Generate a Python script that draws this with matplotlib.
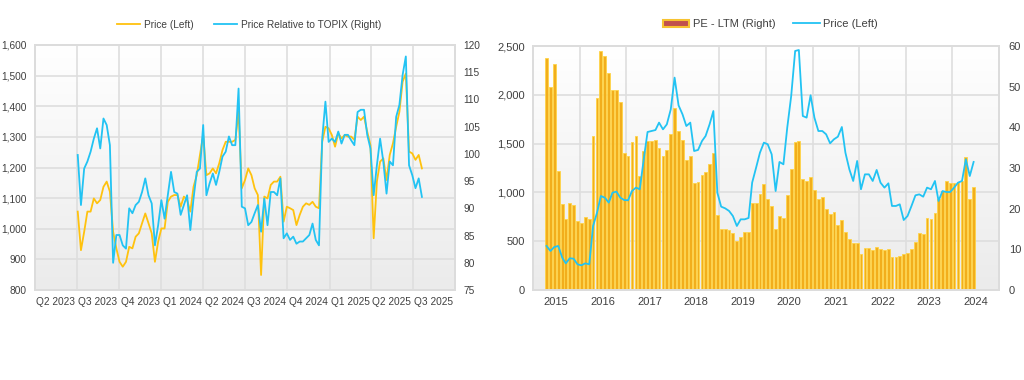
import numpy as np
import pandas as pd
import matplotlib
matplotlib.use("Agg")
import matplotlib.pyplot as plt
import matplotlib.dates as mdates
from matplotlib.lines import Line2D
from matplotlib.patches import Patch
from matplotlib.colors import LinearSegmentedColormap
from matplotlib.ticker import FuncFormatter

plt.rcParams['font.family'] = ['Liberation Sans', 'DejaVu Sans']

# ---------------- Left chart data (weekly) ----------------
left_start = '2023-07-03'
price_left = [1056, 930, 990, 1056, 1056, 1099, 1083, 1094, 1137, 1154,
              1121, 990, 936, 892, 876, 892, 941, 936, 974, 985,
              1018, 1050, 1018, 985, 892, 958, 1001, 1001, 1088, 1105,
              1110, 1110, 1072, 1105, 1094, 1056, 1137, 1175, 1241, 1306,
              1175, 1181, 1197, 1181, 1214, 1257, 1284, 1284, 1284, 1290,
              1382, 1132, 1159, 1197, 1175, 1132, 1110, 849, 1105, 1099,
              1143, 1154, 1154, 1170, 1023, 1072, 1067, 1061, 1012, 1045,
              1072, 1083, 1078, 1088, 1072, 1067, 1284, 1333, 1328, 1306,
              1268, 1312, 1295, 1306, 1301, 1301, 1290, 1366, 1355, 1366,
              1317, 1273, 969, 1154, 1219, 1230, 1159, 1241, 1279, 1333,
              1382, 1480, 1507, 1252, 1246, 1225, 1241, 1197]
rel_topix = [99.8, 90.6, 97.3, 98.6, 100.4, 102.8, 104.7, 101.0, 106.5, 105.3,
             101.6, 80.0, 85.1, 85.1, 83.2, 82.6, 90.0, 89.1, 90.6, 91.2,
             93.0, 95.5, 92.4, 90.9, 83.2, 86.9, 91.5, 88.1, 92.4, 96.7,
             93.0, 92.7, 88.8, 90.6, 92.4, 86.0, 91.8, 96.7, 97.3, 105.3,
             92.4, 94.6, 96.4, 94.3, 96.7, 99.5, 100.4, 103.2, 101.6, 101.6,
             112.0, 90.3, 90.0, 86.9, 87.5, 89.1, 90.6, 85.7, 91.8, 86.9,
             93.0, 93.0, 92.4, 95.5, 84.5, 85.4, 84.2, 84.8, 83.5, 83.9,
             83.9, 84.5, 85.1, 87.2, 84.2, 83.2, 102.8, 109.6, 102.2, 102.8,
             102.2, 104.1, 101.9, 103.5, 103.5, 102.5, 101.6, 107.7, 108.1, 108.1,
             103.5, 101.0, 92.4, 97.9, 102.8, 98.6, 92.7, 98.6, 97.9, 106.8,
             109.0, 114.5, 117.9, 97.9, 96.1, 93.7, 95.5, 92.1]
quarter_labels = ['Q2 2023', 'Q3 2023', 'Q4 2023', 'Q1 2024', 'Q2 2024',
                  'Q3 2024', 'Q4 2024', 'Q1 2025', 'Q2 2025', 'Q3 2025']
left_ticks = [800, 900, 1000, 1100, 1200, 1300, 1400, 1500, 1600]
right_ticks_left_chart = [75, 80, 85, 90, 95, 100, 105, 110, 115, 120]

# ---------------- Right chart data (monthly) ----------------
right_start = '2014-10-01'
pe_ltm = [57.1, 49.8, 55.5, 29.3, 21.1, 17.4, 21.3, 20.9, 17.0, 16.4,
          18.0, 17.4, 37.9, 47.3, 58.8, 57.5, 53.3, 49.1, 49.3, 46.3,
          33.6, 33.0, 36.4, 37.9, 28.0, 34.2, 36.6, 36.6, 37.0, 34.8,
          33.0, 34.4, 38.3, 44.8, 39.1, 36.9, 32.0, 33.0, 26.2, 26.6,
          28.2, 29.0, 31.1, 33.6, 18.4, 15.1, 15.1, 14.7, 14.1, 12.0,
          13.1, 14.3, 14.3, 21.5, 21.3, 23.7, 26.0, 22.3, 20.7, 14.9,
          18.2, 17.8, 23.3, 29.7, 36.5, 36.6, 27.2, 26.8, 27.8, 24.6,
          22.5, 22.9, 20.0, 18.8, 19.3, 15.9, 17.1, 14.3, 12.6, 11.5,
          11.5, 8.8, 10.4, 10.4, 9.8, 10.6, 10.0, 9.8, 10.0, 8.1,
          8.1, 8.4, 8.8, 9.2, 10.2, 11.8, 13.9, 13.7, 17.7, 17.5,
          19.0, 22.3, 24.3, 26.8, 26.2, 26.2, 26.6, 26.8, 32.8, 22.5,
          25.4]
price_right = [451, 400, 441, 451, 332, 273, 325, 321, 263, 253,
               273, 263, 656, 793, 963, 946, 895, 997, 1008, 946,
               922, 919, 1014, 1049, 1032, 1339, 1619, 1629, 1639, 1715,
               1646, 1697, 1851, 2176, 1892, 1800, 1680, 1715, 1424, 1435,
               1527, 1578, 1697, 1834, 997, 854, 837, 810, 758, 656,
               724, 724, 738, 1100, 1254, 1407, 1510, 1493, 1390, 1014,
               1312, 1288, 1663, 1988, 2449, 2459, 1783, 1766, 1995, 1766,
               1629, 1629, 1595, 1503, 1544, 1571, 1670, 1407, 1236, 1117,
               1322, 1032, 1185, 1185, 1117, 1230, 1100, 1049, 1093, 861,
               861, 878, 717, 758, 861, 970, 980, 956, 1049, 1032,
               1117, 912, 1014, 1004, 1004, 1049, 1100, 1117, 1339, 1168,
               1312]
year_labels = ['2015', '2016', '2017', '2018', '2019', '2020', '2021', '2022', '2023', '2024']
price_ticks = [0, 500, 1000, 1500, 2000, 2500]
pe_ticks = [0, 10, 20, 30, 40, 50, 60]

# ---------------- Styles ----------------
YELLOW = '#FFC20E'
BLUE = '#22C3F3'
GRID = '#DEDEDE'
SPINE = '#DCDCDC'
TXT = '#404040'
BAR_FACE = '#F2AE1C'
BAR_EDGE = '#FFD447'

W, H = 1024, 380
fig = plt.figure(figsize=(W / 100, H / 100), dpi=100)
fig.patch.set_facecolor('white')


def rect(x0, x1, ytop, ybot):
    return [x0 / W, 1 - ybot / H, (x1 - x0) / W, (ybot - ytop) / H]


bg_cmap = LinearSegmentedColormap.from_list('bg', ['#FFFFFF', '#EBEBEB'])


def gradient_bg(ax):
    grad = np.linspace(0, 1, 256).reshape(-1, 1)
    ax.imshow(grad, extent=[0, 1, 0, 1], transform=ax.transAxes, origin='upper',
              aspect='auto', cmap=bg_cmap, zorder=0, interpolation='bilinear')


def style_spines(*axes):
    for a in axes:
        for s in a.spines.values():
            s.set_color(SPINE)
            s.set_linewidth(1.2)


comma = FuncFormatter(lambda v, p: f'{int(v):,}')

# ======================= LEFT CHART =======================
axL = fig.add_axes(rect(35, 455, 45, 290))
weeks = mdates.date2num(pd.date_range(left_start, periods=len(price_left), freq='7D'))
lnL1, = axL.plot(weeks, price_left, color=YELLOW, lw=1.3, zorder=3)
axL2 = axL.twinx()
lnL2, = axL2.plot(weeks[:len(rel_topix)], rel_topix, color=BLUE, lw=1.3, zorder=3)

qs = mdates.date2num(pd.date_range('2023-04-01', periods=len(quarter_labels) + 1, freq='QS'))
gradient_bg(axL)
axL.set_xlim(qs[0], qs[-1])
axL.set_xticks(qs[1:-1], minor=True)
axL.set_xticks((qs[:-1] + qs[1:]) / 2)
axL.set_xticklabels(quarter_labels)
axL.set_ylim(left_ticks[0], left_ticks[-1])
axL.set_yticks(left_ticks)
axL.yaxis.set_major_formatter(comma)
axL2.set_ylim(right_ticks_left_chart[0], right_ticks_left_chart[-1])
axL2.set_yticks(right_ticks_left_chart)
axL.grid(which='minor', axis='x', color=GRID, lw=1.2)
axL.grid(which='major', axis='y', color=GRID, lw=1.2)
axL.grid(which='major', axis='x', visible=False)
for a in (axL, axL2):
    a.tick_params(which='both', length=0, labelsize=7.3, colors=TXT)
axL.tick_params(axis='y', pad=6)
axL.tick_params(axis='x', pad=5)
axL2.tick_params(axis='y', pad=6)
style_spines(axL, axL2)

axL.legend([lnL1, lnL2], ['Price (Left)', 'Price Relative to TOPIX (Right)'],
           loc='center', bbox_to_anchor=(0.51, 1.082), ncol=2, frameon=False,
           fontsize=7.3, handlelength=2.3, handletextpad=0.4, columnspacing=2.0,
           labelcolor=TXT)

# ======================= RIGHT CHART =======================
axR = fig.add_axes(rect(533, 999, 46, 290))
months = mdates.date2num(pd.date_range(right_start, periods=len(pe_ltm), freq='MS') + pd.Timedelta(days=14))
axR.bar(months, pe_ltm, width=22, color=BAR_FACE, edgecolor=BAR_EDGE, linewidth=0.6, zorder=2)
axR2 = axR.twinx()
lnR, = axR2.plot(months[:len(price_right)], price_right, color=BLUE, lw=1.3, zorder=3)

axR.yaxis.tick_right()
axR2.yaxis.tick_left()

ys = mdates.date2num(pd.date_range('2014-07-01', periods=len(year_labels) + 1, freq='12MS'))
gradient_bg(axR)
axR.set_xlim(ys[0], ys[-1])
axR.set_xticks(ys[1:-1], minor=True)
axR.set_xticks((ys[:-1] + ys[1:]) / 2)
axR.set_xticklabels(year_labels)
axR.set_ylim(pe_ticks[0], pe_ticks[-1])
axR.set_yticks(pe_ticks)
axR.set_yticks([t / price_ticks[-1] * pe_ticks[-1] for t in price_ticks], minor=True)
axR2.set_ylim(price_ticks[0], price_ticks[-1])
axR2.set_yticks(price_ticks)
axR2.yaxis.set_major_formatter(comma)
axR.grid(which='minor', axis='both', color=GRID, lw=1.2, zorder=1)
axR.grid(which='major', visible=False)
axR.set_axisbelow(True)
for a in (axR, axR2):
    a.tick_params(which='both', length=0, labelsize=8, colors=TXT)
axR.tick_params(axis='y', pad=7)
axR.tick_params(axis='x', pad=5)
axR2.tick_params(axis='y', pad=6)
style_spines(axR, axR2)

pe_handle = Patch(facecolor='#C0504D', edgecolor='#F7C331', linewidth=1.5)
axR2.legend([pe_handle, lnR], ['PE - LTM (Right)', 'Price (Left)'],
            loc='center', bbox_to_anchor=(0.509, 1.09), ncol=2, frameon=False,
            fontsize=8, handlelength=2.4, handleheight=0.6, handletextpad=0.3,
            columnspacing=1.6, labelcolor=TXT)

fig.savefig('out.png', dpi=100, facecolor='white')
